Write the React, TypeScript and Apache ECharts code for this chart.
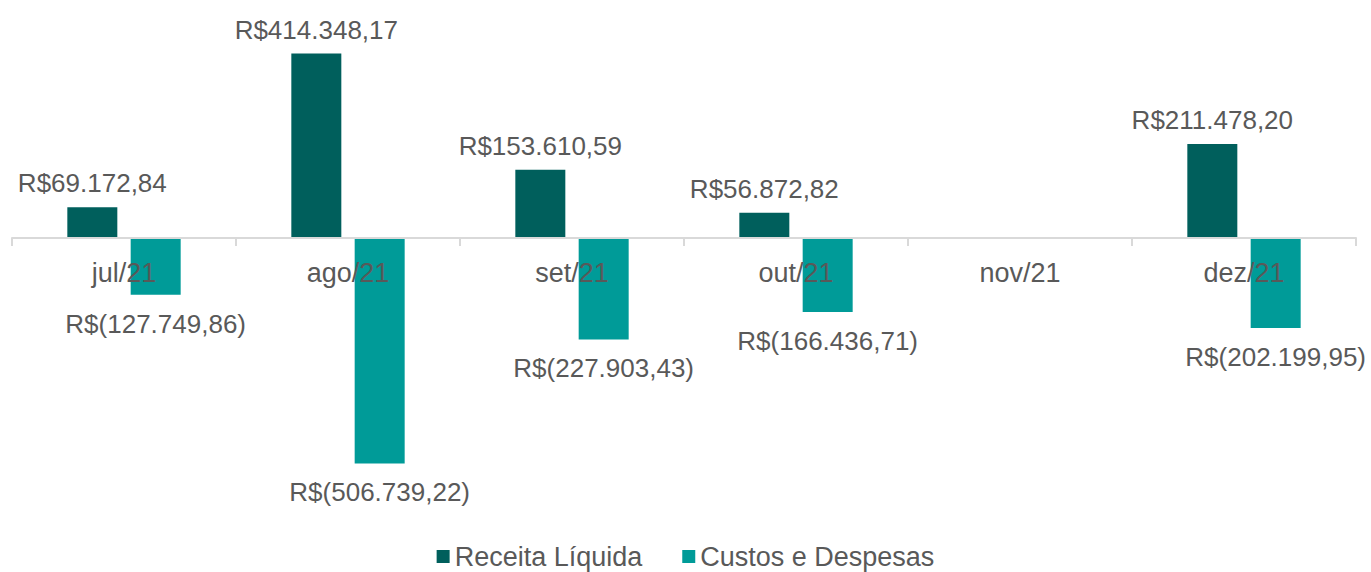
import React, { useEffect, useRef } from "react";
import * as echarts from "echarts";

const categories = ["jul/21", "ago/21", "set/21", "out/21", "nov/21", "dez/21"];
const receitaLiquida = [69172.84, 414348.17, 153610.59, 56872.82, null, 211478.2];
const custosDespesas = [-127749.86, -506739.22, -227903.43, -166436.71, null, -202199.95];
const seriesNames = ["Receita Líquida", "Custos e Despesas"];

const FONT = "'Liberation Sans', sans-serif";
const TEXT = "#595959";

function fmtBRL(v: number): string {
  const abs = Math.abs(v);
  const [intPart, dec] = abs.toFixed(2).split(".");
  const withDots = intPart.replace(/\B(?=(\d{3})+(?!\d))/g, ".");
  const s = `${withDots},${dec}`;
  return v < 0 ? `R$(${s})` : `R$${s}`;
}

export default function App() {
  const ref = useRef<HTMLDivElement>(null);
  useEffect(() => {
    document.body.style.margin = "0";
    const chart = echarts.init(ref.current!, null, { renderer: "svg" });
    chart.setOption({
      animation: false,
      textStyle: { fontFamily: FONT },
      grid: { left: 12, right: 15, top: 15.5, height: 489.5, containLabel: false },
      legend: {
        top: 543,
        left: "center",
        padding: 0,
        icon: "rect",
        itemWidth: 13,
        itemHeight: 13,
        itemGap: 40,
        data: seriesNames,
        textStyle: { fontSize: 27, color: TEXT, fontFamily: FONT },
      },
      xAxis: {
        type: "category",
        data: categories,
        z: 10,
        offset: -267,
        axisLine: { onZero: false, lineStyle: { color: "#d9d9d9", width: 2 } },
        axisTick: { show: true, length: 8, lineStyle: { color: "#d9d9d9", width: 2 } },
        axisLabel: { fontSize: 27, color: TEXT, margin: 21, fontFamily: FONT },
      },
      yAxis: {
        type: "value",
        min: -600000,
        max: 500000,
        show: false,
        splitLine: { show: false },
      },
      series: [
        {
          name: seriesNames[0],
          type: "bar",
          data: receitaLiquida,
          barWidth: 50,
          barGap: "26.7%",
          itemStyle: { color: "#005f5c" },
          label: {
            show: true,
            position: "top",
            distance: 11,
            fontSize: 26,
            color: TEXT,
            fontFamily: FONT,
            formatter: (p: any) => fmtBRL(p.value),
          },
        },
        {
          name: seriesNames[1],
          type: "bar",
          data: custosDespesas,
          barWidth: 50,
          itemStyle: { color: "#009b98" },
          label: {
            show: true,
            position: "bottom",
            distance: 16,
            fontSize: 26,
            color: TEXT,
            fontFamily: FONT,
            formatter: (p: any) => fmtBRL(p.value),
          },
        },
      ],
    });
    return () => chart.dispose();
  }, []);
  return <div ref={ref} style={{ width: 1371, height: 572 }} />;
}
